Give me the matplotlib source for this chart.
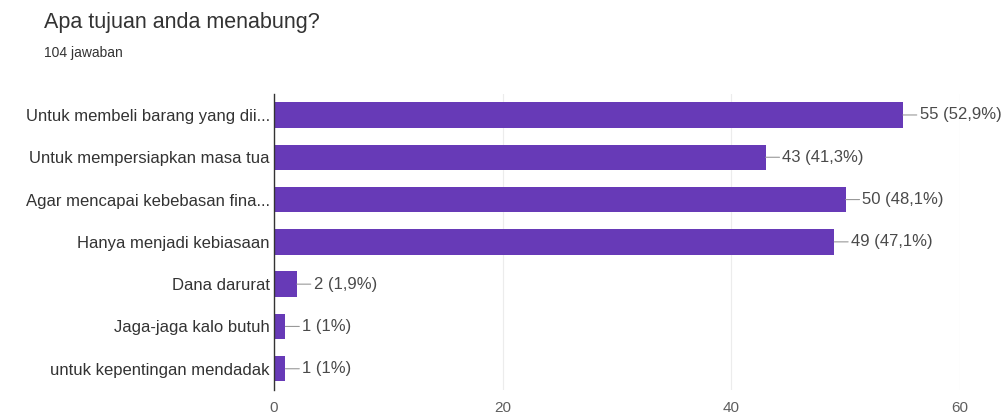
import matplotlib.pyplot as plt
import numpy as np

plt.rcParams['font.family'] = ['Liberation Sans', 'DejaVu Sans']

labels = [
    "Untuk membeli barang yang dii...",
    "Untuk mempersiapkan masa tua",
    "Agar mencapai kebebasan fina...",
    "Hanya menjadi kebiasaan",
    "Dana darurat",
    "Jaga-jaga kalo butuh",
    "untuk kepentingan mendadak",
]
counts = [55, 43, 50, 49, 2, 1, 1]
percent = ["52,9%", "41,3%", "48,1%", "47,1%", "1,9%", "1%", "1%"]
xticks = [0, 20, 40, 60]

fig = plt.figure(figsize=(10.08, 4.17), dpi=100)
ax = fig.add_axes([0.2718, 0.065, 0.6806, 0.710])

y = np.arange(len(labels))
ax.barh(y, counts, height=0.6, color="#673ab7", zorder=3)
ax.set_ylim(len(labels) - 0.5, -0.5)
ax.set_xlim(0, 60)

ax.set_yticks(y)
ax.set_yticklabels(labels, fontsize=12, color="#333333")
ax.set_xticks(xticks)
ax.set_xticklabels([str(t) for t in xticks], fontsize=11, color="#5f5f5f")
ax.tick_params(axis="both", length=0)
ax.tick_params(axis="y", pad=3)
ax.tick_params(axis="x", pad=8)

for s in ["top", "right", "bottom"]:
    ax.spines[s].set_visible(False)
ax.spines["left"].set_color("#333333")
ax.spines["left"].set_linewidth(1.0)
ax.spines["left"].set_zorder(4)
ax.grid(axis="x", color="#ececec", linewidth=0.8, zorder=0)

for i, (c, p) in enumerate(zip(counts, percent)):
    ax.annotate(f"{c} ({p})", xy=(c, i), xytext=(12, 0),
                textcoords="offset points", ha="left", va="center",
                fontsize=12, color="#4a4a4a",
                arrowprops=dict(arrowstyle="-", color="#999999", lw=0.8,
                                shrinkA=0, shrinkB=0))

fig.text(0.044, 0.933, "Apa tujuan anda menabung?", fontsize=15.5,
         color="#333333", va="baseline")
fig.text(0.044, 0.863, "104 jawaban", fontsize=10,
         color="#333333", va="baseline")

fig.savefig("out.png", dpi=100, facecolor="white")
